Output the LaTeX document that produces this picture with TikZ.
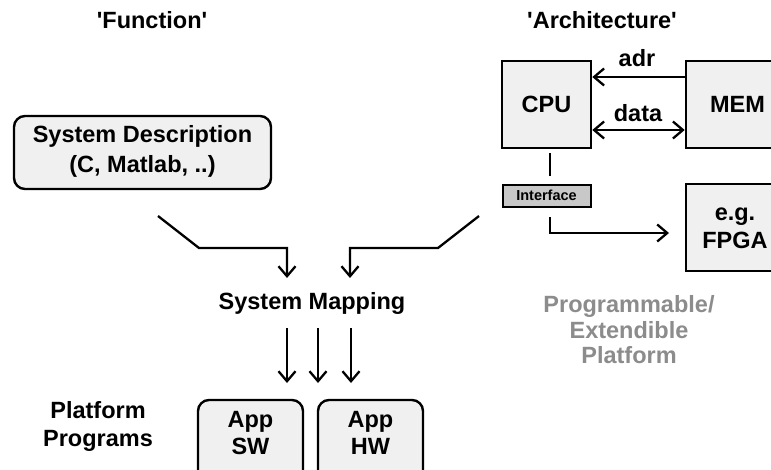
\documentclass[tikz,border=0pt]{standalone}
\usepackage{fontspec}
\setmainfont{Liberation Sans}
\usetikzlibrary{arrows.meta,calc}
\definecolor{boxfill}{RGB}{240,240,240}
\definecolor{ifill}{RGB}{200,200,200}
\definecolor{graytxt}{RGB}{140,140,140}
\begin{document}
\begin{tikzpicture}[x=1pt,y=-1pt,
  txt/.style={font=\fontsize{23.5}{28}\selectfont\bfseries, align=center, inner sep=0pt},
  sqbox/.style={draw, line width=2.6pt, fill=boxfill, inner sep=0pt},
  rbox/.style={draw, line width=2.4pt, fill=boxfill, rounded corners=11pt, inner sep=0pt},
  arr/.style={line width=2.3pt, -{Straight Barb[length=10pt,width=17pt,line width=2.3pt]}},
  darr/.style={line width=2.3pt, {Straight Barb[length=10pt,width=17pt,line width=2.3pt]}-{Straight Barb[length=10pt,width=17pt,line width=2.3pt]}},
  ln/.style={line width=2.3pt}
]
\clip (0,0) rectangle (771,469);
\fill[white] (0,0) rectangle (771,469);

% titles
\node[txt] (func) at (152,20) {\textquotesingle Function\textquotesingle};
\node[txt] (arch) at (602,20) {\textquotesingle Architecture\textquotesingle};

% architecture
\node[sqbox, minimum width=89pt, minimum height=87pt] (cpu) at (546.5,104.5) {};
\node[txt] (cput) at (cpu.center) {CPU};
\node[sqbox, minimum width=104pt, minimum height=87pt] (mem) at (738,104.5) {};
\node[txt] (memt) at (737.5,104.5) {MEM};
\node[sqbox, minimum width=104pt, minimum height=87pt] (fpga) at (738,227.5) {};
\node[txt] (fpgat) at (735,228) {e.g.\\FPGA};
\node[draw, line width=2pt, fill=ifill, minimum width=88pt, minimum height=22pt, inner sep=0pt,
      font=\fontsize{14.5}{16}\selectfont\bfseries] (iface) at (546.5,195.5) {Interface};

\coordinate (adry) at (0,77);
\coordinate (datay) at (0,130);
\draw[arr] (mem.west |- adry) -- (cpu.east |- adry);
\draw[darr] (cpu.east |- datay) -- (mem.west |- datay);
\node[txt] (adrl) at (637,58) {adr};
\node[txt] (datal) at (638,113) {data};

\coordinate (c1) at (550,153);
\coordinate (c2) at (550,176);
\draw[ln] (c1) -- (c2);
\coordinate (i1) at (550,217);
\coordinate (i2) at (550,233);
\coordinate (i3) at (669,233);
\draw[arr] (i1) -- (i2) -- (i3);

\node[txt, text=graytxt, font=\fontsize{23.5}{25.5}\selectfont\bfseries] (prog) at (629,330) {Programmable/\\Extendible\\Platform};

% function side
\node[rbox, minimum width=257pt, minimum height=73pt] (sysdesc) at (142.5,152.5) {};
\node[txt, font=\fontsize{23.5}{30}\selectfont\bfseries] (sysdesct) at (142.5,151) {System Description\\(C, Matlab, ..)};

\node[txt] (sysmap) at (312,303) {System Mapping};

\coordinate (l1) at (158,216);
\coordinate (l2) at (199,248);
\coordinate (l3) at (287,248);
\coordinate (l4) at (287,278);
\draw[arr] (l1) -- (l2) -- (l3) -- (l4);
\coordinate (r1) at (479,216);
\coordinate (r2) at (438,248);
\coordinate (r3) at (350,248);
\coordinate (r4) at (350,278);
\draw[arr] (r1) -- (r2) -- (r3) -- (r4);

\foreach \x/\n in {287/a,318/b,351/c}{
  \coordinate (m\n1) at (\x,328);
  \coordinate (m\n2) at (\x,383);
  \draw[arr] (m\n1) -- (m\n2);
}

\node[rbox, minimum width=105pt, minimum height=100pt] (appsw) at (250.5,450) {};
\node[txt, font=\fontsize{23.5}{27}\selectfont\bfseries] (appswt) at (250.5,433) {App\\SW};
\node[rbox, minimum width=105pt, minimum height=100pt] (apphw) at (370.5,450) {};
\node[txt, font=\fontsize{23.5}{27}\selectfont\bfseries] (apphwt) at (370.5,433) {App\\HW};

\node[txt] (platf) at (98,426) {Platform\\Programs};
\end{tikzpicture}
\end{document}
